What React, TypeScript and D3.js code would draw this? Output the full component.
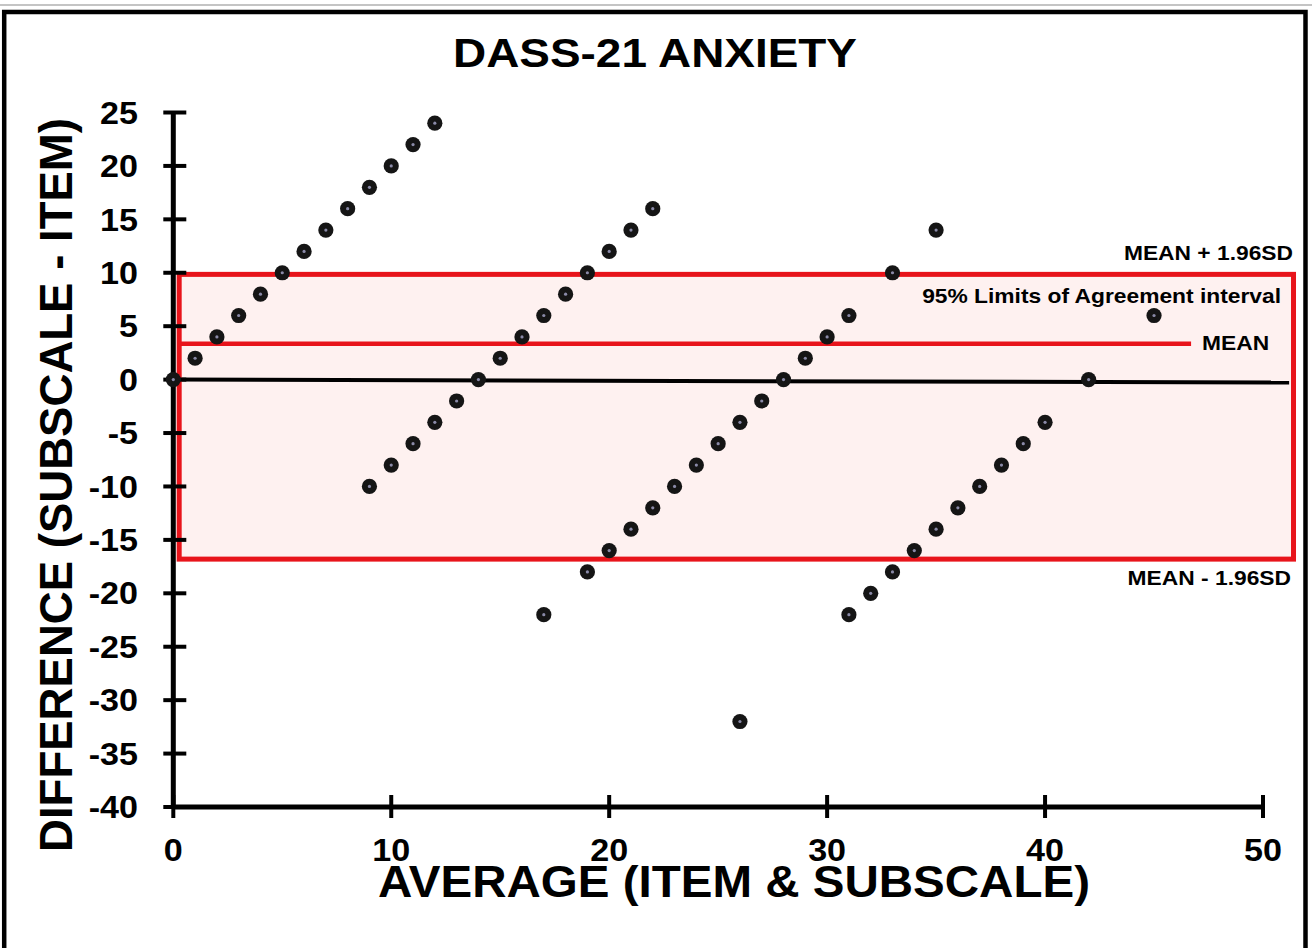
import React from "react";
import * as d3 from "d3";

// ---- Data ----
const avgValues: number[] = [
  0, 1, 2, 3, 4, 5, 6, 7, 8, 9, 10, 11, 12,
  9, 10, 11, 12, 13, 14, 15, 16, 17, 18, 19, 20, 21, 22,
  17, 19, 20, 21, 22, 23, 24, 25, 26, 27, 28, 29, 30, 31, 33, 35,
  26,
  31, 32, 33, 34, 35, 36, 37, 38, 39, 40, 42, 45,
];
const diffValues: number[] = [
  0, 2, 4, 6, 8, 10, 12, 14, 16, 18, 20, 22, 24,
  -10, -8, -6, -4, -2, 0, 2, 4, 6, 8, 10, 12, 14, 16,
  -22, -18, -16, -14, -12, -10, -8, -6, -4, -2, 0, 2, 4, 6, 10, 14,
  -32,
  -22, -20, -18, -16, -14, -12, -10, -8, -6, -4, 0, 6,
];
const xTicks: number[] = [0, 10, 20, 30, 40, 50];
const yTicks: number[] = [25, 20, 15, 10, 5, 0, -5, -10, -15, -20, -25, -30, -35, -40];

const upperLimit = 9.85;
const lowerLimit = -16.8;
const meanValue = 3.35;
const bandXRange: [number, number] = [0.27, 51.4];
const meanLineEnd = 46.7;
const zeroLine: [number, number][] = [[0, 0], [51.2, -0.27]];

const title = "DASS-21 ANXIETY";
const xTitle = "AVERAGE (ITEM & SUBSCALE)";
const yTitle = "DIFFERENCE (SUBSCALE - ITEM)";
const upperLabel = "MEAN + 1.96SD";
const lowerLabel = "MEAN - 1.96SD";
const bandLabel = "95% Limits of Agreement interval";
const meanLabel = "MEAN";

const FONT = "'Liberation Sans', Arial, Helvetica, sans-serif";
const RED = "#e8141b";

export default function App() {
  const W = 1312, H = 948;
  const x = d3.scaleLinear().domain([0, 50]).range([173.3, 1263]);
  const y = d3.scaleLinear().domain([-40, 25]).range([807, 112.5]);
  const x0 = x(0), y0 = y(-40);
  const line = d3.line<[number, number]>().x(d => x(d[0])).y(d => y(d[1]));

  const bx0 = x(bandXRange[0]), bx1 = x(bandXRange[1]);
  const by0 = y(upperLimit), by1 = y(lowerLimit);

  return (
    <svg
      width={W}
      height={H}
      viewBox={`0 0 ${W} ${H}`}
      style={{ position: "absolute", left: 0, top: 0, background: "#fff" }}
      fontFamily={FONT}
      fontWeight="bold"
    >
      <rect x={0} y={0} width={W} height={H} fill="#fff" />
      <line x1={0} x2={W} y1={5} y2={5} stroke="#c4c4c4" strokeWidth={2} />
      <rect x={4.2} y={12} width={1301.3} height={1000} fill="none" stroke="#000" strokeWidth={4.5} />

      {/* title */}
      <text x={655} y={67} textAnchor="middle" fontSize={40} textLength={404} lengthAdjust="spacingAndGlyphs">
        {title}
      </text>

      {/* band fill */}
      <rect x={bx0} y={by0} width={bx1 - bx0} height={by1 - by0} fill="#fef1f0" />

      {/* zero line */}
      <path d={line(zeroLine) || ""} stroke="#000" strokeWidth={4} fill="none" />

      {/* mean line */}
      <path d={line([[bandXRange[0], meanValue], [meanLineEnd, meanValue]]) || ""} stroke={RED} strokeWidth={4.5} fill="none" />

      {/* band outline */}
      <rect x={bx0} y={by0} width={bx1 - bx0} height={by1 - by0} fill="none" stroke={RED} strokeWidth={5} />

      {/* axes */}
      <line x1={x0} x2={x0} y1={y(25)} y2={y0} stroke="#000" strokeWidth={5} />
      <line x1={x0} x2={x(50)} y1={y0} y2={y0} stroke="#000" strokeWidth={5} />
      {yTicks.map(v => (
        <g key={"yt" + v}>
          <line x1={x0 - 10} x2={x0 + 13} y1={y(v)} y2={y(v)} stroke="#000" strokeWidth={4} />
          <text
            transform={`translate(138, ${y(v)}) scale(1.1,1)`}
            textAnchor="end"
            dy="0.36em"
            fontSize={31}
          >
            {v}
          </text>
        </g>
      ))}
      {xTicks.map(v => (
        <g key={"xt" + v}>
          <line x1={x(v)} x2={x(v)} y1={y0 - 12} y2={y0 + 11} stroke="#000" strokeWidth={4} />
          <text transform={`translate(${x(v)}, 861) scale(1.1,1)`} textAnchor="middle" fontSize={31}>
            {v}
          </text>
        </g>
      ))}

      {/* axis titles */}
      <text x={734} y={897} textAnchor="middle" fontSize={44} textLength={712} lengthAdjust="spacingAndGlyphs">
        {xTitle}
      </text>
      <text
        transform={`translate(72, 485) rotate(-90)`}
        textAnchor="middle"
        fontSize={47}
        textLength={734}
        lengthAdjust="spacingAndGlyphs"
      >
        {yTitle}
      </text>

      {/* points */}
      {avgValues.map((a, i) => (
        <g key={"p" + i}>
          <circle cx={x(a)} cy={y(diffValues[i])} r={7.6} fill="#151515" />
          <circle cx={x(a)} cy={y(diffValues[i])} r={1.6} fill="#8a8aa8" />
        </g>
      ))}

      {/* annotations */}
      <text transform="translate(1293, 260) scale(1.14,1)" textAnchor="end" fontSize={20}>{upperLabel}</text>
      <text transform="translate(1281, 303) scale(1.14,1)" textAnchor="end" fontSize={20}>{bandLabel}</text>
      <text transform="translate(1202, 350) scale(1.14,1)" textAnchor="start" fontSize={20}>{meanLabel}</text>
      <text transform="translate(1291, 585) scale(1.14,1)" textAnchor="end" fontSize={20}>{lowerLabel}</text>
    </svg>
  );
}
